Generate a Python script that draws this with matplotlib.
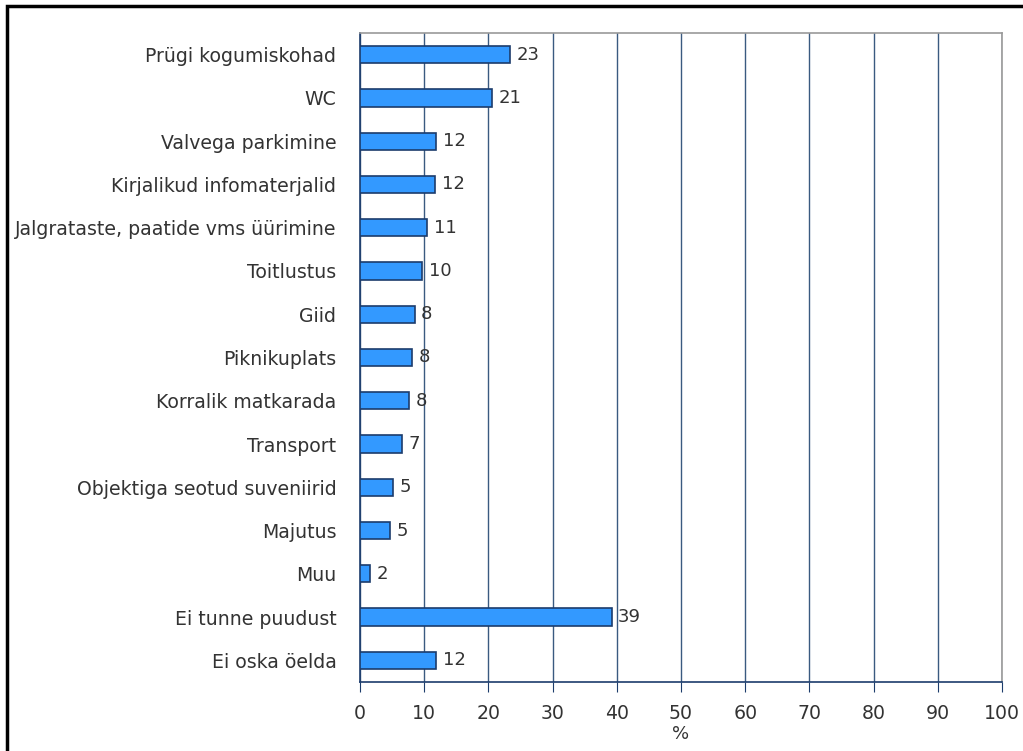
import matplotlib
matplotlib.use("Agg")
import matplotlib.pyplot as plt
from matplotlib.patches import Rectangle

plt.rcParams['font.family'] = ['DejaVu Sans']

categories = ["Prügi kogumiskohad", "WC", "Valvega parkimine", "Kirjalikud infomaterjalid",
              "Jalgrataste, paatide vms üürimine", "Toitlustus", "Giid", "Piknikuplats",
              "Korralik matkarada", "Transport", "Objektiga seotud suveniirid", "Majutus",
              "Muu", "Ei tunne puudust", "Ei oska öelda"]
values = [23.4, 20.6, 11.9, 11.7, 10.5, 9.7, 8.5, 8.1, 7.7, 6.5, 5.2, 4.7, 1.6, 39.2, 11.9]
value_labels = ["23", "21", "12", "12", "11", "10", "8", "8", "8", "7", "5", "5", "2", "39", "12"]
xticks = [0, 10, 20, 30, 40, 50, 60, 70, 80, 90, 100]
xlabel = "%"

W, H = 1023, 751
fig = plt.figure(figsize=(W / 100, H / 100), dpi=100)
ax = fig.add_axes([360 / W, 1 - 682 / H, (1002 - 360) / W, (682 - 33) / H])

# outer frame (cropped at right/bottom)
fig.patches.append(Rectangle((7 / W, -0.01), 1.05, 1 - 6 / H + 0.01, transform=fig.transFigure,
                             fill=False, edgecolor="black", linewidth=2.5, clip_on=False))

y = list(range(len(categories)))
ax.barh(y, values, height=0.4, color="#3399FF", edgecolor="#1c3c6c", linewidth=1.2, zorder=3)
for yi, v, lab in zip(y, values, value_labels):
    ax.text(v + 1.0, yi, lab, va="center", ha="left", fontsize=13, color="#333333", zorder=4)

ax.set_ylim(len(categories) - 0.5, -0.5)
ax.set_xlim(0, 100)
ax.set_yticks(y)
ax.set_yticklabels(categories, fontsize=13.6, color="#333333")
ax.set_xticks(xticks)
ax.set_xticklabels([str(t) for t in xticks], fontsize=13.6, color="#333333")
ax.tick_params(axis="y", length=0, pad=17)
ax.tick_params(axis="x", direction="out", length=7, color="#1c3c6c", pad=9)
ax.grid(axis="x", color="#3a5a80", linewidth=1.0, zorder=1)
ax.set_axisbelow(True)
for s in ["top", "right"]:
    ax.spines[s].set_color("#999999")
    ax.spines[s].set_linewidth(1.2)
ax.spines["left"].set_color("#1c3c6c")
ax.spines["bottom"].set_color("#1c3c6c")
ax.spines["left"].set_linewidth(1.2)
ax.spines["bottom"].set_linewidth(1.2)
ax.set_xlabel(xlabel, fontsize=13, color="#333333")
ax.xaxis.set_label_coords(0.5, (682 - 725) / (682 - 33))

fig.savefig("out.png", dpi=100)
